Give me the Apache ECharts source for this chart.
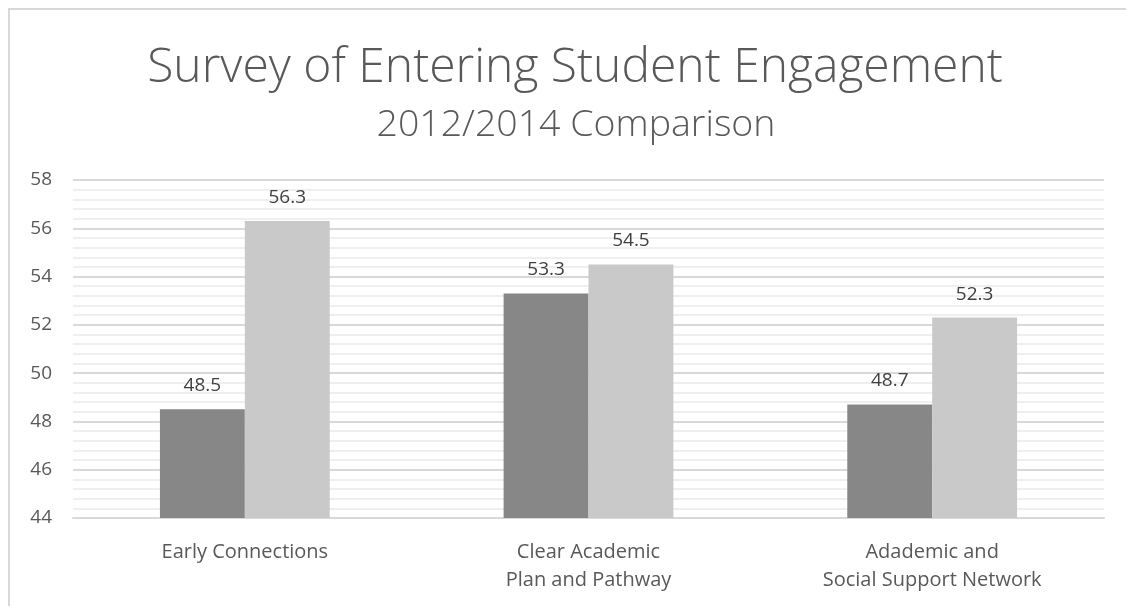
<!DOCTYPE html>
<html>
<head>
<meta charset="utf-8">
<script src="https://cdn.jsdelivr.net/npm/echarts@6/dist/echarts.min.js"></script>
<style>
html,body{margin:0;padding:0;background:#fff;}
#main{width:1126px;height:606px;}
</style>
</head>
<body>
<div id="main"></div>
<script>
// chart data
var categories = ['Early Connections', 'Clear Academic\nPlan and Pathway', 'Adademic and\nSocial Support Network'];
var values2012 = [48.5, 53.3, 48.7];
var values2014 = [56.3, 54.5, 52.3];
var yTicks = [44, 46, 48, 50, 52, 54, 56, 58];

var chart = echarts.init(document.getElementById('main'));
var fontName = 'Open Sans';

var option = {
    animation: false,
    backgroundColor: '#fff',
    textStyle: { fontFamily: fontName },
    title: [
        {
            text: 'Survey of Entering Student Engagement',
            left: 570,
            textAlign: 'center',
            top: 39,
            textStyle: { fontFamily: fontName, fontSize: 48, fontWeight: 300, color: '#595959' }
        },
        {
            text: '2012/2014 Comparison',
            left: 571,
            textAlign: 'center',
            top: 101,
            textStyle: { fontFamily: fontName, fontSize: 37.5, fontWeight: 300, color: '#595959' }
        }
    ],
    graphic: [
        { type: 'rect', shape: { x: 9, y: 9, width: 1200, height: 700 }, style: { fill: 'none', stroke: '#d9d9d9', lineWidth: 2 } }
    ],
    grid: { left: 73, right: 22, top: 180, bottom: 88 },
    xAxis: {
        type: 'category',
        data: categories,
        axisLine: { lineStyle: { color: '#d9d9d9', width: 2 } },
        axisTick: { show: false },
        axisLabel: { color: '#595959', fontSize: 20, lineHeight: 28, margin: 20, fontFamily: fontName }
    },
    yAxis: {
        type: 'value',
        min: yTicks[0],
        max: yTicks[yTicks.length - 1],
        interval: 2,
        axisLine: { show: false },
        axisTick: { show: false },
        axisLabel: { color: '#595959', fontSize: 19, margin: 21, fontFamily: fontName },
        splitLine: { lineStyle: { color: '#d9d9d9', width: 2 } },
        minorTick: { show: false, splitNumber: 5 },
        minorSplitLine: { show: true, lineStyle: { color: '#efefef', width: 2 } }
    },
    series: [
        {
            name: '2012',
            type: 'bar',
            data: values2012,
            barWidth: '24.7%',
            barGap: '0%',
            itemStyle: { color: '#878787' },
            label: { show: true, position: 'top', distance: 14, color: '#404040', fontSize: 19, fontFamily: fontName }
        },
        {
            name: '2014',
            type: 'bar',
            data: values2014,
            barWidth: '24.7%',
            barGap: '0%',
            itemStyle: { color: '#c9c9c9' },
            label: { show: true, position: 'top', distance: 14, color: '#404040', fontSize: 19, fontFamily: fontName }
        }
    ]
};

chart.setOption(option);
</script>
</body>
</html>
